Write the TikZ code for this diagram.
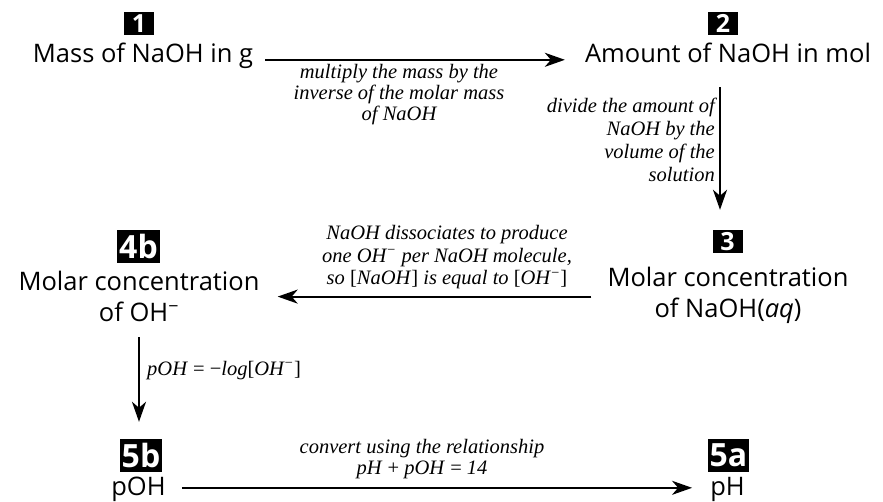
\documentclass[tikz,border=0pt]{standalone}
\usepackage{fontspec}
\setmainfont{Open Sans}
\newfontfamily\notefont{Liberation Serif}
\usetikzlibrary{arrows.meta}

\tikzset{
  box/.style={font=\fontsize{25.5}{31.5}\selectfont, align=center, inner sep=0pt},
  badge/.style={fill=black, text=white, inner sep=0pt,
    font=\bfseries\fontsize{25}{25}\selectfont, minimum height=23pt, minimum width=30pt},
  bigbadge/.style={badge, font=\bfseries\fontsize{32}{32}\selectfont,
    minimum height=33pt, minimum width=0pt, inner xsep=2pt},
  note/.style={font=\notefont\itshape\fontsize{20.5}{21}\selectfont, inner sep=0pt},
  link/.style={line width=2.2pt, -{Stealth[length=20pt,width=14pt,inset=6pt]}}
}

\begin{document}
\begin{tikzpicture}[x=1pt, y=-1pt]
  \useasboundingbox (0,0) rectangle (883,502);

  % step 1 and 2
  \node[badge] (b1) at (139,23.5) {1};
  \node[box, anchor=base] (mass) at (143,63) {Mass of NaOH in g};
  \node[badge] (b2) at (723,23.5) {2};
  \node[box, anchor=base] (amount) at (728,63) {Amount of NaOH in mol};

  % step 3 and 4b (base = last line)
  \node[badge] (b3) at (727.5,241.5) {3};
  \node[box, anchor=base] (c3) at (728,318) {Molar concentration\\of NaOH(\textit{aq})};
  \node[bigbadge] (b4b) at (138.5,246.5) {4b};
  \node[box, anchor=base] (c4) at (139,322) {Molar concentration\\of OH\textsuperscript{−}};

  % step 5b and 5a
  \node[bigbadge] (b5b) at (141,455.5) {5b};
  \node[box, anchor=base] (p5b) at (138.5,495) {pOH};
  \node[bigbadge] (b5a) at (728.5,455.5) {5a};
  \node[box, anchor=base] (p5a) at (727.5,495) {pH};

  % arrows
  \draw[link, shorten <=12pt, shorten >=20pt]
    ([yshift=-3.5pt]mass.east) -- ([yshift=-3.5pt]mass.east -| amount.west);
  \draw[link, shorten <=24pt, shorten >=20pt]
    ([xshift=-8pt]amount.south) -- ([xshift=-8pt]amount.south |- b3.north);
  \draw[link, shorten <=16pt, shorten >=18pt]
    ([yshift=-1pt]c3.west) -- ([yshift=-1pt]c3.west -| c4.east);
  \draw[link, shorten <=15pt, shorten >=17pt] (c4.south) -- (c4.south |- b5b.north);
  \draw[link, shorten <=16pt, shorten >=18pt]
    ([yshift=1pt]p5b.east) -- ([yshift=1pt]p5b.east -| p5a.west);

  % notes
  \node[note, align=center, anchor=base] (n12) at (399,121)
    {multiply the mass by the\\inverse of the molar mass\\of NaOH};
  \node[note, align=right, anchor=base east, font=\notefont\itshape\fontsize{20.5}{23.3}\selectfont]
    (n23) at (715,182) {divide the amount of\\NaOH by the\\volume of the\\solution};
  \node[note, align=center, anchor=base, font=\notefont\itshape\fontsize{20.5}{22.5}\selectfont]
    (n34) at (447,285) {NaOH dissociates to produce\\one OH\textsuperscript{−} per NaOH molecule,\\so \textup{[}NaOH\textup{]} is equal to \textup{[}OH\textsuperscript{−}\textup{]}};
  \node[note, anchor=base west] (n45) at (147,375)
    {pOH \textup{= −}log\textup{[}OH\textsuperscript{−}\textup{]}};
  \node[note, align=center, anchor=base] (n55) at (422,474)
    {convert using the relationship\\pH \textup{+} pOH \textup{=} 14};
\end{tikzpicture}
\end{document}
